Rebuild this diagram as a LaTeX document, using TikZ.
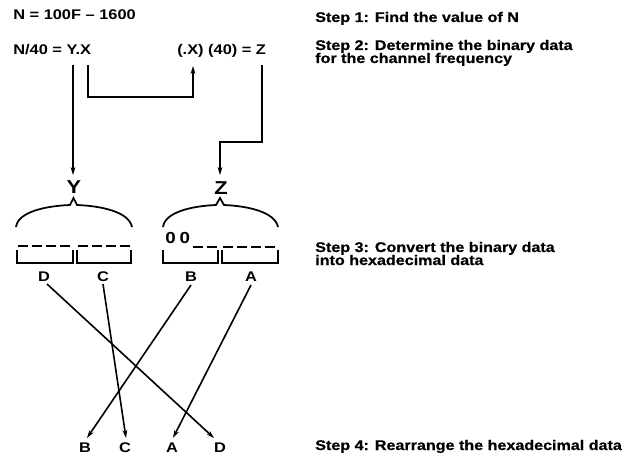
\documentclass[tikz,border=0pt]{standalone}
\usepackage{fontspec}
\setmainfont{Liberation Sans}
\newfontfamily\widef{Liberation Sans}[FakeStretch=1.17]
\newfontfamily\heavyf{Liberation Sans}[FakeStretch=1.15,FakeBold=0.6]
\usetikzlibrary{arrows.meta}
\begin{document}
\begin{tikzpicture}[x=0.75pt,y=-0.75pt,
  txt/.style={font=\widef\bfseries\fontsize{10.5}{9.75}\selectfont, inner sep=0pt, anchor=base west},
  stp/.style={font=\heavyf\bfseries\fontsize{10.5}{9.75}\selectfont, inner sep=0pt, anchor=base west},
  let/.style={font=\widef\bfseries\fontsize{10.5}{10}\selectfont, inner sep=0pt, anchor=base},
  zer/.style={font=\widef\bfseries\fontsize{12}{12}\selectfont, inner sep=0pt, anchor=base west},
  big/.style={font=\widef\bfseries\fontsize{14}{14}\selectfont, inner sep=0pt, anchor=base},
  ln/.style={line width=1.2pt},
  arr/.style={ln,-{Stealth[length=6pt,width=3.6pt]}},
  dsh/.style={line width=0.9pt, dash pattern=on 7.5pt off 3pt},
  brace/.style={line width=1.3pt, line join=miter}]
\useasboundingbox (0,0) rectangle (635,460);

% equations
\node[txt] (eqN) at (13,20) {N = 100F – 1600};
\node[txt] (eqY) at (13,55) {N/40 = Y.X};
\node[txt] (eqZ) at (177,55) {(.X) (40) = Z};

% steps
\node[stp] (s1) at (315,22) {Step 1: Find the value of N};
\node[stp] (s2a) at (315,50) {Step 2: Determine the binary data};
\node[stp] (s2b) at (315,63) {for the channel frequency};
\node[stp] (s3a) at (315,252) {Step 3: Convert the binary data};
\node[stp] (s3b) at (315,265) {into hexadecimal data};
\node[stp] (s4) at (315,450) {Step 4: Rearrange the hexadecimal data};

% Y and Z labels
\node[big] (Y) at (74,193) {Y};
\node[big] (Zl) at (221,194) {Z};

% connectors from equations
\coordinate (yTop) at (73,65);
\coordinate (yTip) at (73,175);
\draw[arr] (yTop) -- (yTip);

\coordinate (xTop) at (88,65);
\coordinate (xTip) at (193,66);
\draw[arr] (xTop) -- (88,97) -- (193,97) -- (xTip);

\coordinate (zTop) at (262,65);
\coordinate (zTip) at (220,175);
\draw[arr] (zTop) -- (262,142) -- (220,142) -- (zTip);

% braces
\draw[brace] (16,227) .. controls (18,212) and (45,206) .. (70,205) -- (73.5,198) -- (77,205)
  .. controls (102,206) and (129,212) .. (132,227);
\draw[brace] (163,227) .. controls (165,212) and (192,206) .. (216,205) -- (220,198) -- (224,205)
  .. controls (248,206) and (275,212) .. (278,227);

% boxes
\draw[ln] (17,250) -- (17,263) -- (73,263) -- (73,250);
\draw[ln] (77,250) -- (77,263) -- (131,263) -- (131,250);
\draw[ln] (163,250) -- (163,263) -- (218,263) -- (218,250);
\draw[ln] (222,250) -- (222,263) -- (278,263) -- (278,250);
\draw[dsh] (18,246) -- (72,246);
\draw[dsh] (78,246) -- (131,246);
\draw[dsh] (193,247) -- (218,247);
\draw[dsh] (223,247) -- (278,247);
\node[zer] (zz) at (165,243) {0\hspace{3pt}0};

% top letters
\node[let] (D1) at (44,281) {D};
\node[let] (C1) at (103,281) {C};
\node[let] (B1) at (191,281) {B};
\node[let] (A1) at (251,281) {A};

% bottom letters
\node[let] (B2) at (85,452) {B};
\node[let] (C2) at (125,452) {C};
\node[let] (A2) at (172,452) {A};
\node[let] (D2) at (220,452) {D};

\draw[arr] (47,284) -- (214,438);
\draw[arr] (103,284) -- (126,438);
\draw[arr] (191,285) -- (87,438);
\draw[arr] (251,285) -- (173,438);
\end{tikzpicture}
\end{document}
